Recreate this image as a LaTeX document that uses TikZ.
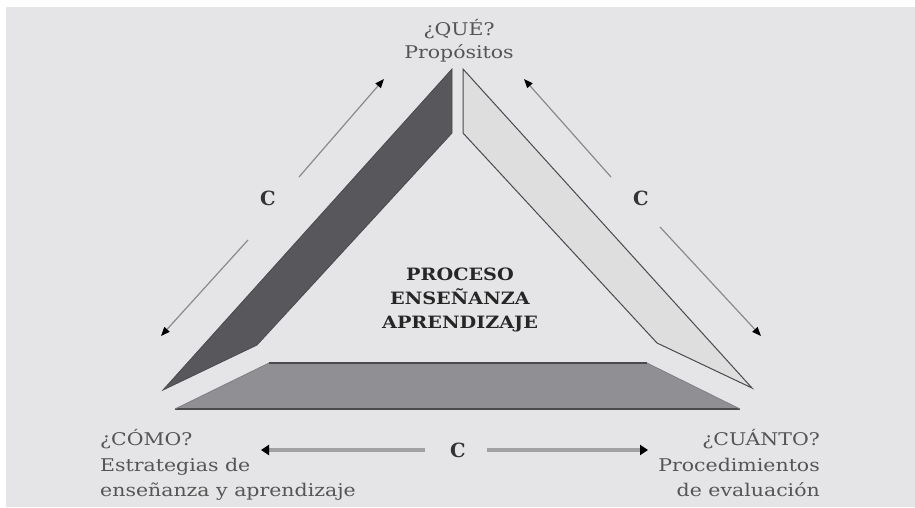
\documentclass[tikz,border=0pt]{standalone}
\usepackage{fontspec}
\setmainfont{DejaVu Serif}
\usetikzlibrary{arrows.meta}
\definecolor{bg}{HTML}{E5E5E7}
\definecolor{darkband}{HTML}{58585C}
\definecolor{lightband}{HTML}{DEDEDF}
\definecolor{midband}{HTML}{909094}
\definecolor{edge}{HTML}{4A4A4E}
\definecolor{txt}{HTML}{555555}
\definecolor{arrowline}{HTML}{8A8A8C}
\newcommand{\widetxt}[1]{\scalebox{1.17}[1]{#1}}
\newcommand{\widebold}[1]{\scalebox{1.13}[1]{#1}}
\tikzset{
  lbl/.style={inner sep=0pt, text=txt, font=\fontsize{17.5}{20}\selectfont},
  boldlbl/.style={inner sep=0pt, text=black!85, font=\fontsize{17}{20}\selectfont\bfseries},
  clbl/.style={inner sep=0pt, text=black!80, font=\fontsize{19.5}{20}\selectfont\bfseries},
  thinarrow/.style={draw=arrowline, line width=1.2pt, -{Triangle[length=9pt,width=7pt,color=black]}},
  thickarrow/.style={draw=arrowline!80, line width=3.5pt, -{Triangle[length=8pt,width=10pt,color=black]}},
}
\begin{document}
\begin{tikzpicture}[x=1pt,y=-1pt]
\useasboundingbox (0,0) rectangle (915,507);
\fill[white] (0,0) rectangle (915,507);
\fill[bg] (6,7) rectangle (915,507);

% bands
\filldraw[fill=darkband, draw=edge, line width=0.8pt, line join=miter]
  (452,69) -- (452,133) -- (257,345) -- (163,390) -- cycle;
\filldraw[fill=lightband, draw=edge, line width=1pt]
  (463,69) -- (463,133) -- (657,343) -- (752,388) -- cycle;
\fill[midband] (175,409) -- (269,363) -- (647,363) -- (740,409) -- cycle;
\draw[edge, line width=2pt] (269,363) -- (647,363);
\draw[edge, line width=2pt] (175,409) -- (740,409);
\draw[edge!70, line width=0.8pt] (175,409) -- (269,363);
\draw[edge!70, line width=0.8pt] (647,363) -- (740,409);

% texts
\node[lbl, anchor=base] (que) at (459,35) {\widetxt{¿QUÉ?}};
\node[lbl, anchor=base] (prop) at (459,58) {\widetxt{Propósitos}};

\node[boldlbl, anchor=base] (p1) at (460,280) {\widebold{PROCESO}};
\node[boldlbl, anchor=base] (p2) at (460,304) {\widebold{ENSEÑANZA}};
\node[boldlbl, anchor=base] (p3) at (460,328) {\widebold{APRENDIZAJE}};

\node[lbl, anchor=base west] (como) at (100,445) {\widetxt{¿CÓMO?}};
\node[lbl, anchor=base west] (estr) at (100,471) {\widetxt{Estrategias de}};
\node[lbl, anchor=base west] (ens) at (100,496) {\widetxt{enseñanza y aprendizaje}};

\node[lbl, anchor=base east] (cuanto) at (820,445) {\widetxt{¿CUÁNTO?}};
\node[lbl, anchor=base east] (proc) at (820,471) {\widetxt{Procedimientos}};
\node[lbl, anchor=base east] (eval) at (820,496) {\widetxt{de evaluación}};

\node[clbl] (cl) at (268,198) {C};
\node[clbl] (cr) at (641,198) {C};
\node[clbl] (cb) at (458,450) {C};

% arrow coordinates
\coordinate (lu0) at (299,177); \coordinate (lu1) at (384,79);
\coordinate (ll0) at (248,240); \coordinate (ll1) at (161,336);
\coordinate (ru0) at (611,177); \coordinate (ru1) at (524,79);
\coordinate (rl0) at (660,227); \coordinate (rl1) at (761,336);
\coordinate (bl0) at (425,450); \coordinate (bl1) at (261,450);
\coordinate (br0) at (487,450); \coordinate (br1) at (648,450);

\draw[thinarrow] (lu0) -- (lu1);
\draw[thinarrow] (ll0) -- (ll1);
\draw[thinarrow] (ru0) -- (ru1);
\draw[thinarrow] (rl0) -- (rl1);
\draw[thickarrow] (bl0) -- (bl1);
\draw[thickarrow] (br0) -- (br1);
\end{tikzpicture}
\end{document}
